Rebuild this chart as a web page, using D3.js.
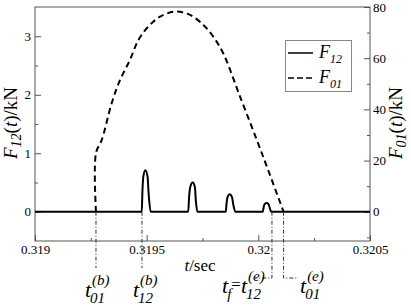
<!DOCTYPE html>
<meta charset="utf-8">
<style>
body { margin: 0; background: #fff; }
svg text { font-family: "Liberation Serif", "Times New Roman", serif; }
.tick text { font-size: 13px; fill: #000; }
.tick line { stroke: #555; }
</style>
<svg width="411" height="308"></svg>
<script src="https://d3js.org/d3.v7.min.js"></script>
<script>

// F12(t) in kN (left axis)
var f12Time = [0.3190,
  0.319478, 0.319481, 0.319485, 0.319494, 0.319504, 0.319509, 0.319518,
  0.319686, 0.319690, 0.319695, 0.319706, 0.319716, 0.319720, 0.319727,
  0.319854, 0.319858, 0.319862, 0.319872, 0.319882, 0.319888, 0.319897,
  0.320020, 0.320024, 0.320028, 0.320038, 0.320047, 0.320052, 0.320058,
  0.3205];
var f12Value = [0,
  0, 0.35, 0.60, 0.71, 0.60, 0.30, 0,
  0, 0.25, 0.42, 0.50, 0.42, 0.20, 0,
  0, 0.15, 0.25, 0.30, 0.25, 0.12, 0,
  0, 0.08, 0.13, 0.15, 0.12, 0.05, 0,
  0];

// F01(t) in kN (right axis)
var f01Time = [0.319273, 0.319273, 0.319299, 0.319345, 0.319381, 0.319425, 0.319463,
  0.319507, 0.319560, 0.319627, 0.319694, 0.319754, 0.319798, 0.319843,
  0.319918, 0.319993, 0.320052, 0.320113];
var f01Value = [0, 22.9, 28.1, 42.9, 51.5, 59.3, 67.1,
  72.3, 76.2, 78.2, 76.9, 73.0, 68.4, 61.9,
  45.0, 28.1, 14.4, 0];

// event times: t01(b), t12(b), tf = t12(e), t01(e)
var eventTimes = [0.319273, 0.319479, 0.320061, 0.320113];

var xTicks = [0.319, 0.3195, 0.32, 0.3205];
var xTickLabels = ["0.319", "0.3195", "0.32", "0.3205"];
var xMinor = [0.31925, 0.31975, 0.32025];
var leftTicks = [0, 1, 2, 3];
var leftMinor = [0.5, 1.5, 2.5];
var rightTicks = [0, 20, 40, 60, 80];
var rightMinor = [-10, 10, 30, 50, 70];

var FONT = "Liberation Serif";
var svg = d3.select("svg");
var L = 35, R = 370, T = 7, B = 241;

var x = d3.scaleLinear().domain([0.319, 0.3205]).range([L, R]);
var yL = d3.scaleLinear().domain([-0.5, 3.5]).range([B, T]);
var yR = d3.scaleLinear().domain([-80 / 7, 80]).range([B, T]);

// axes (ticks point inwards)
function clean(g) {
  g.select(".domain").remove();
  g.attr("font-family", FONT).attr("font-size", 13);
}

svg.append("g").attr("transform", "translate(0," + B + ")")
  .call(d3.axisBottom(x).tickValues(xTicks)
    .tickFormat(function(d, i) { return xTickLabels[i]; })
    .tickSizeInner(-6).tickSizeOuter(0).tickPadding(4))
  .call(clean);
svg.append("g").attr("transform", "translate(0," + B + ")")
  .call(d3.axisBottom(x).tickValues(xMinor).tickFormat("")
    .tickSizeInner(-3).tickSizeOuter(0))
  .call(clean);

svg.append("g").attr("transform", "translate(" + L + ",0)")
  .call(d3.axisLeft(yL).tickValues(leftTicks).tickFormat(d3.format("d"))
    .tickSizeInner(-6).tickSizeOuter(0).tickPadding(4))
  .call(clean);
svg.append("g").attr("transform", "translate(" + L + ",0)")
  .call(d3.axisLeft(yL).tickValues(leftMinor).tickFormat("")
    .tickSizeInner(-3).tickSizeOuter(0))
  .call(clean);

svg.append("g").attr("transform", "translate(" + R + ",0)")
  .call(d3.axisRight(yR).tickValues(rightTicks).tickFormat(d3.format("d"))
    .tickSizeInner(-6).tickSizeOuter(0).tickPadding(3))
  .call(clean);
svg.append("g").attr("transform", "translate(" + R + ",0)")
  .call(d3.axisRight(yR).tickValues(rightMinor).tickFormat("")
    .tickSizeInner(-3).tickSizeOuter(0))
  .call(clean);

svg.append("rect")
  .attr("x", L).attr("y", T).attr("width", R - L).attr("height", B - T)
  .attr("fill", "none").attr("stroke", "#555").attr("stroke-width", 1);

// curves
var f01Line = d3.line()
  .x(function(d) { return x(d[0]); })
  .y(function(d) { return yR(d[1]); })
  .curve(d3.curveCatmullRom.alpha(0.5));

var f12Line = d3.line()
  .x(function(d) { return x(d[0]); })
  .y(function(d) { return yL(d[1]); })
  .curve(d3.curveMonotoneX);

svg.append("path")
  .datum(f12Time.map(function(t, i) { return [t, f12Value[i]]; }))
  .attr("d", f12Line)
  .attr("fill", "none").attr("stroke", "#000").attr("stroke-width", 2);

svg.append("path")
  .datum(f01Time.map(function(t, i) { return [t, f01Value[i]]; }))
  .attr("d", f01Line)
  .attr("fill", "none").attr("stroke", "#000").attr("stroke-width", 2)
  .attr("stroke-dasharray", "6,4");

// event marker lines below the axis
var y0 = yL(0);
var markers = [
  [[x(eventTimes[0]), y0], [x(eventTimes[0]), 268]],
  [[x(eventTimes[1]), y0], [x(eventTimes[1]), 268]],
  [[x(eventTimes[2]), y0], [x(eventTimes[2]), 278], [255, 278]],
  [[x(eventTimes[3]), y0], [x(eventTimes[3]), 278], [297, 278]]
];
svg.selectAll(".marker").data(markers).enter().append("path")
  .attr("class", "marker")
  .attr("d", d3.line())
  .attr("fill", "none").attr("stroke", "#333").attr("stroke-width", 1)
  .attr("stroke-dasharray", "4,2,1,2");

// labels with stacked super/subscripts
function sym(x0, base, main, sup, sub, size) {
  var t = svg.append("text").attr("x", x0).attr("y", base)
    .attr("font-size", size).attr("font-style", "italic").text(main);
  var w = t.node().getComputedTextLength();
  var w1 = 0, w2 = 0;
  if (sup) {
    var s = svg.append("text").attr("x", x0 + w + 1).attr("y", base - 12)
      .attr("font-size", 15).attr("font-style", "italic").text(sup);
    w1 = s.node().getComputedTextLength() + 1;
  }
  if (sub) {
    var b = svg.append("text").attr("x", x0 + w - 1).attr("y", base + 6)
      .attr("font-size", 15).attr("font-style", "italic").text(sub);
    w2 = b.node().getComputedTextLength() - 1;
  }
  return x0 + w + Math.max(w1, w2);
}

sym(x(eventTimes[0]) - 11, 297, "t", "(b)", "01", 22);
sym(x(eventTimes[1]) - 9, 297, "t", "(b)", "12", 22);
var xe = sym(222, 293, "t", null, "f", 22);
var eq = svg.append("text").attr("x", xe).attr("y", 290).attr("font-size", 17).text("=");
sym(xe + eq.node().getComputedTextLength(), 293, "t", "(e)", "12", 22);
sym(300, 293, "t", "(e)", "01", 22);

// axis titles
svg.append("text").attr("x", 200).attr("y", 271).attr("text-anchor", "middle")
  .attr("font-size", 17)
  .html('<tspan font-style="italic">t</tspan>/sec');

function forceTitle(xPos, sub) {
  svg.append("text")
    .attr("transform", "translate(" + xPos + ",123) rotate(-90)")
    .attr("text-anchor", "middle").attr("font-size", 19)
    .html('<tspan font-style="italic">F</tspan>' +
      '<tspan font-style="italic" font-size="14" dy="4">' + sub + '</tspan>' +
      '<tspan dy="-4">(</tspan><tspan font-style="italic">t</tspan>)/kN');
}
forceTitle(17, "12");
forceTitle(402, "01");

// legend
var lg = svg.append("g");
lg.append("rect").attr("x", 285.5).attr("y", 40.5).attr("width", 66).attr("height", 51)
  .attr("fill", "#fff").attr("stroke", "#888");
var legendNames = ["12", "01"];
var legendDash = [null, "6,3"];
legendNames.forEach(function(n, i) {
  var yy = 53 + i * 25;
  lg.append("line").attr("x1", 288).attr("x2", 313).attr("y1", yy).attr("y2", yy)
    .attr("stroke", "#000").attr("stroke-width", 1.5)
    .attr("stroke-dasharray", legendDash[i]);
  lg.append("text").attr("x", 319).attr("y", yy + 5).attr("font-size", 18)
    .attr("font-style", "italic")
    .html('F<tspan font-size="12" dy="5">' + n + '</tspan>');
});

svg.selectAll("text").attr("font-family", FONT);

</script>
